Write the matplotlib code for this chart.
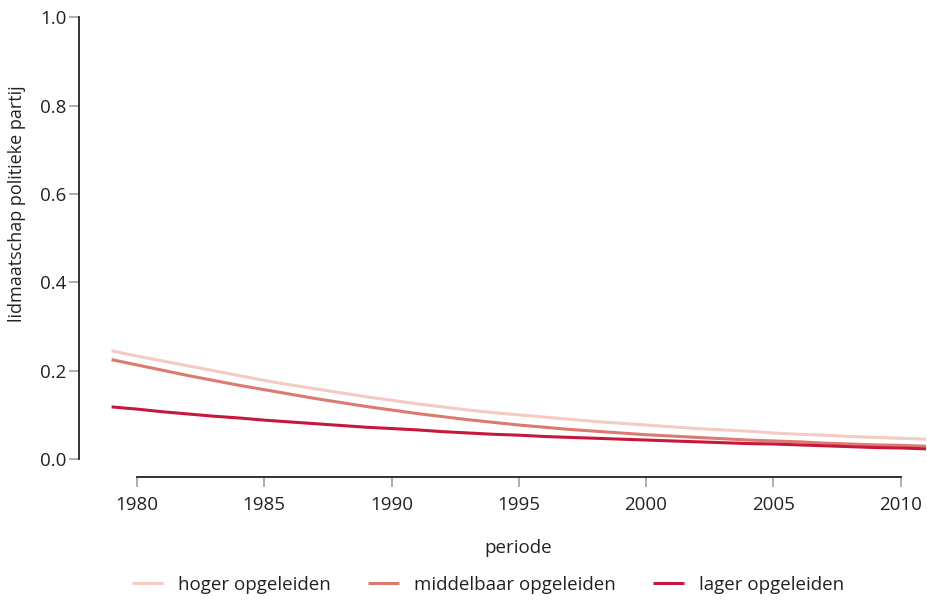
import matplotlib
matplotlib.use('Agg')
import matplotlib.pyplot as plt

plt.rcParams['font.family'] = ['Open Sans', 'DejaVu Sans']

# jaren en geschatte aandelen lidmaatschap per opleidingsniveau
years = list(range(1979, 2012))
hoger = [0.245, 0.233, 0.222, 0.211, 0.200, 0.189, 0.178, 0.168, 0.159, 0.150,
         0.141, 0.133, 0.125, 0.118, 0.111, 0.105, 0.100, 0.095, 0.090, 0.085,
         0.081, 0.077, 0.073, 0.069, 0.066, 0.063, 0.059, 0.056, 0.054, 0.051,
         0.049, 0.047, 0.045]
middelbaar = [0.225, 0.213, 0.201, 0.189, 0.178, 0.167, 0.157, 0.147, 0.137, 0.128,
              0.119, 0.111, 0.103, 0.096, 0.089, 0.083, 0.077, 0.072, 0.067, 0.063,
              0.059, 0.055, 0.052, 0.049, 0.046, 0.043, 0.041, 0.039, 0.036, 0.034,
              0.032, 0.031, 0.029]
lager = [0.118, 0.113, 0.107, 0.102, 0.097, 0.093, 0.088, 0.084, 0.080, 0.076,
         0.072, 0.069, 0.066, 0.062, 0.059, 0.056, 0.054, 0.051, 0.049, 0.047,
         0.045, 0.043, 0.041, 0.039, 0.037, 0.035, 0.034, 0.032, 0.030, 0.028,
         0.026, 0.025, 0.023]

series_labels = ['hoger opgeleiden', 'middelbaar opgeleiden', 'lager opgeleiden']
xticks = [1980, 1985, 1990, 1995, 2000, 2005, 2010]
yticks = [0.0, 0.2, 0.4, 0.6, 0.8, 1.0]

colors = ['#f3cbc2', '#dc7a70', '#c8173d']
txt = '#222222'

fig = plt.figure(figsize=(9.27, 6.0), dpi=100)
ax = fig.add_axes([79 / 927, (600 - 476.7) / 600, (958.6 - 79) / 927, 477.1 / 600])

for vals, lab, c in zip([hoger, middelbaar, lager], series_labels, colors):
    ax.plot(years, vals, color=c, lw=2.2, label=lab, solid_capstyle='butt')

ax.set_xlim(1977.72, 2012.28)
ax.set_ylim(-0.04, 1.04)

ax.spines['top'].set_visible(False)
ax.spines['right'].set_visible(False)
ax.spines['left'].set_bounds(0, 1)
ax.spines['bottom'].set_bounds(1980, 2010)
for s in ['left', 'bottom']:
    ax.spines[s].set_linewidth(1.3)
    ax.spines[s].set_color('#222222')

ax.set_xticks(xticks)
ax.set_xticklabels([str(x) for x in xticks])
ax.set_yticks(yticks)
ax.set_yticklabels([f'{y:.1f}' for y in yticks])
ax.tick_params(direction='out', length=7, width=1.1, color='#999999',
               labelsize=13.5, labelcolor=txt)
ax.tick_params(axis='x', pad=7)
ax.tick_params(axis='y', pad=2)

fig.text(518 / 927, 1 - 548 / 600, 'periode', ha='center', va='center',
         fontsize=13.5, color=txt)
fig.text(17 / 927, 1 - 204 / 600, 'lidmaatschap politieke partij', ha='center',
         va='center', rotation=90, fontsize=13, color=txt)

fig.legend(loc='center', bbox_to_anchor=(488 / 927, 1 - 585 / 600), ncol=3,
           frameon=False, fontsize=13.5, handlelength=1.65, handletextpad=0.8,
           columnspacing=2.0, labelcolor=txt)

fig.savefig('out.png', dpi=100)
